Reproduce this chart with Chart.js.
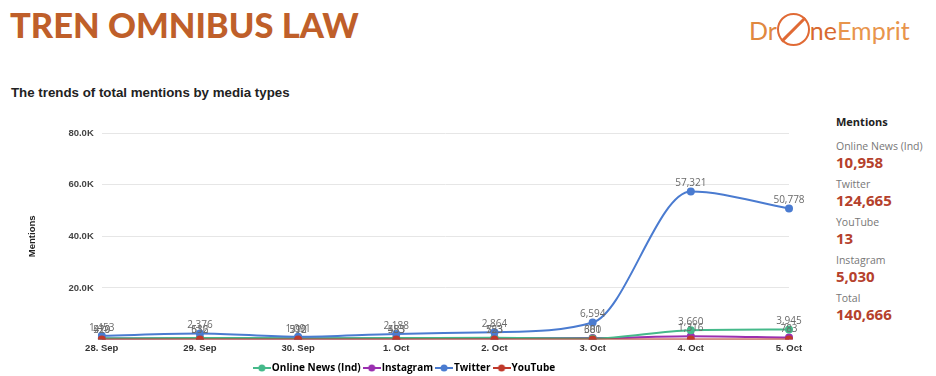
<!DOCTYPE html>
<html><head><meta charset="utf-8">
<script src="https://cdn.jsdelivr.net/npm/chart.js@4"></script>
<style>
body{margin:0;width:936px;height:376px;background:#fff;position:relative;overflow:hidden;font-family:"Open Sans",sans-serif;}
#title{position:absolute;left:10px;top:4px;font-family:Lato,sans-serif;font-weight:900;font-size:34.5px;color:#bf5f2a;letter-spacing:0px;}
#logo{position:absolute;left:749px;top:13px;font-family:Lato,sans-serif;font-size:25px;color:#e0883f;display:flex;align-items:center;}
#logo .ring{display:inline-block;width:33px;height:33px;border:2.5px solid #e06a35;border-radius:50%;position:relative;box-sizing:border-box;}
#logo .ring:after{content:"";position:absolute;left:13px;top:-2px;width:2.5px;height:33px;background:#e06a35;transform:rotate(45deg);}
#sub{position:absolute;left:11px;top:85px;font-family:"Liberation Sans",Arial,sans-serif;font-weight:bold;font-size:13.3px;color:#222;}
#side{position:absolute;left:836px;top:114px;font-family:"Open Sans",sans-serif;}
#side .h{font-weight:bold;font-size:11px;color:#222;margin-bottom:11px;}
#side .l{font-size:10.5px;color:#777;line-height:12px;}
#side .v{font-weight:bold;font-size:15px;color:#b5412c;line-height:20px;margin-bottom:6px;}
#c{position:absolute;left:0;top:119px;}
</style></head>
<body>
<div id="title">TREN OMNIBUS LAW</div>
<div id="logo"><span style="color:#e0883f">Dr</span><span class="ring"></span><span style="color:#d8692f">ne</span><span style="color:#e8954c">Emprit</span></div>
<div id="sub">The trends of total mentions by media types</div>
<div id="side">
<div class="h">Mentions</div>
<div class="l">Online News (Ind)</div><div class="v">10,958</div>
<div class="l">Twitter</div><div class="v">124,665</div>
<div class="l">YouTube</div><div class="v">13</div>
<div class="l">Instagram</div><div class="v">5,030</div>
<div class="l">Total</div><div class="v">140,666</div>
</div>
<canvas id="c" width="820" height="264"></canvas>
<script>
const categories = ["28. Sep","29. Sep","30. Sep","1. Oct","2. Oct","3. Oct","4. Oct","5. Oct"];
const onlineNews = [519, 636, 512, 583, 723, 380, 3660, 3945];
const instagram = [420, 512, 390, 455, 553, 601, 1316, 783];
const twitter = [1453, 2376, 1091, 2188, 2864, 6594, 57321, 50778];
const youtube = [1, 2, 1, 3, 2, 1, 2, 1];
const yTicks = [0, 20000, 40000, 60000, 80000];

function legendIcon(color){
  const cv=document.createElement('canvas');cv.width=18;cv.height=10;
  const g=cv.getContext('2d');g.strokeStyle=color;g.lineWidth=2;
  g.beginPath();g.moveTo(0,5);g.lineTo(18,5);g.stroke();
  g.fillStyle=color;g.beginPath();g.arc(9,5,3.5,0,Math.PI*2);g.fill();
  return cv;
}
const labelPlugin={id:'lbl',afterDatasetsDraw(chart){
  const ctx=chart.ctx;ctx.save();
  ctx.font='10px "Open Sans", sans-serif';ctx.fillStyle='#6a6a6a';ctx.textAlign='center';ctx.textBaseline='bottom';
  chart.data.datasets.forEach((ds,i)=>{
    if(!ds.showLabels) return;
    const meta=chart.getDatasetMeta(i);
    meta.data.forEach((p,j)=>{ctx.fillText(ds.data[j].toLocaleString('en-US'),p.x,p.y-3);});
  });
  ctx.restore();
}};
const mk=(label,data,color,order,showLabels)=>({label,data,borderColor:color,backgroundColor:color,pointBackgroundColor:color,
  pointRadius:4,pointBorderWidth:0,borderWidth:2,cubicInterpolationMode:'monotone',order,showLabels});
new Chart(document.getElementById('c'),{
  type:'line',
  data:{labels:categories,datasets:[
    mk('Online News (Ind)',onlineNews,'#45b98a',2,true),
    mk('Instagram',instagram,'#9a2fb0',3,true),
    mk('Twitter',twitter,'#4a7bd0',1,true),
    mk('YouTube',youtube,'#c0392b',0,false)
  ]},
  options:{responsive:false,animation:false,
    layout:{padding:{left:23,right:31,top:14,bottom:0}},
    plugins:{tooltip:{enabled:false},
      legend:{position:'bottom',labels:{usePointStyle:true,font:{size:10,weight:'bold',family:'"Open Sans", sans-serif'},color:'#333',padding:6,boxWidth:20,
        sort:(a,b)=>a.datasetIndex-b.datasetIndex,
        generateLabels(chart){return chart.data.datasets.map((d,i)=>({text:d.label,pointStyle:legendIcon(d.borderColor),fillStyle:d.borderColor,strokeStyle:d.borderColor,lineWidth:0,datasetIndex:i,hidden:false}));}
      }}},
    scales:{
      x:{offset:false,grid:{display:false,drawTicks:false},border:{display:false},ticks:{font:{size:9.5,weight:'bold'},color:'#333',padding:3,maxRotation:0}},
      y:{min:0,max:80000,afterBuildTicks(s){s.ticks=yTicks.map(v=>({value:v}));},
        grid:{color:'#e6e6e6',drawTicks:false},border:{display:false},
        title:{display:true,text:'Mentions',font:{size:9.5,weight:'bold'},color:'#222',padding:{bottom:22}},
        ticks:{padding:8,font:{size:9.5,weight:'bold'},color:'#444',callback:v=>v===0?'':(v/1000).toFixed(1)+'K'}}
    }
  },
  plugins:[labelPlugin]
});
</script>
</body></html>
